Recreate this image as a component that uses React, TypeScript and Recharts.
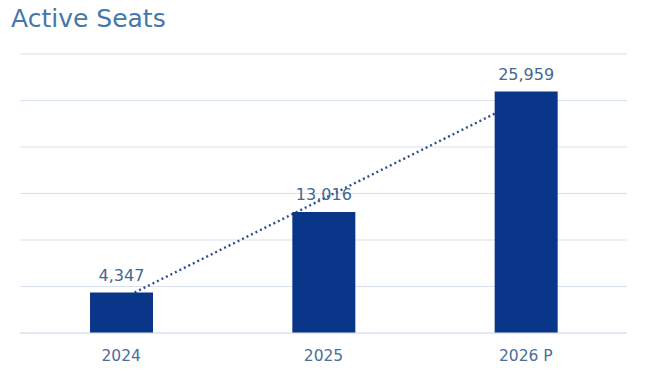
import React from "react";
import { ComposedChart, Bar, Line, XAxis, YAxis, CartesianGrid, LabelList } from "recharts";

const categories = ["2024", "2025", "2026 P"];
const seats = [4347, 13016, 25959];
const trend = [3635, 14441, 25247];
const yTicks = [0, 5000, 10000, 15000, 20000, 25000, 30000];

const data = categories.map((c, i) => ({ name: c, seats: seats[i], trend: trend[i] }));

const fmt = (v: number) => v.toLocaleString("en-US");

export default function App() {
  return (
    <div style={{ position: "absolute", left: 0, top: 0, width: 665, height: 375, background: "#fff", fontFamily: "'DejaVu Sans', Verdana, sans-serif" }}>
      <div style={{ position: "absolute", left: 11, top: 4, fontSize: 25, color: "#4677AA", lineHeight: "30px" }}>Active Seats</div>
      <ComposedChart width={665} height={375} data={data} margin={{ top: 54, right: 38, left: 20, bottom: 0 }} barCategoryGap="34%">
        <CartesianGrid horizontal vertical={false} stroke="#D7E2EE" strokeWidth={1.2} />
        <YAxis hide domain={[0, 30000]} ticks={yTicks} />
        <XAxis dataKey="name" height={42} tickLine={false} axisLine={{ stroke: "#D7E2EE", strokeWidth: 1.2 }} tick={{ fill: "#4A6F99", fontSize: 15.5 }} tickMargin={11} />
        <Line dataKey="trend" type="linear" stroke="#2F4E8E" strokeWidth={2.4} strokeDasharray="2 3" dot={false} isAnimationActive={false} zIndex={250} />
        <Bar dataKey="seats" fill="#0A368A" barSize={63} isAnimationActive={false}>
          <LabelList dataKey="seats" position="top" offset={12} formatter={(v: any) => fmt(Number(v))} style={{ fill: "#44688F", fontSize: 16 }} />
        </Bar>
      </ComposedChart>
    </div>
  );
}
